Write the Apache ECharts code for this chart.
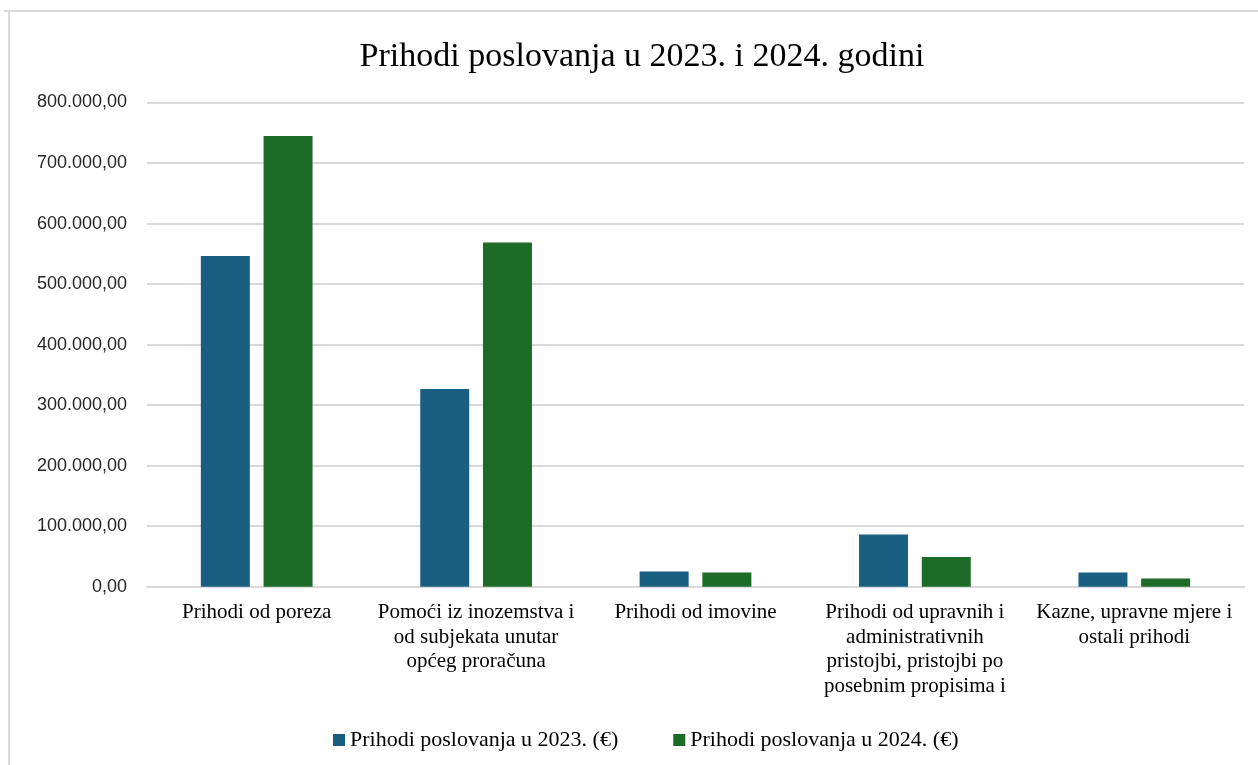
<!DOCTYPE html>
<html>
<head>
<meta charset="utf-8">
<script src="https://cdn.jsdelivr.net/npm/echarts@6/dist/echarts.min.js"></script>
<style>
html,body{margin:0;padding:0;background:#fff;}
#chart{width:1258px;height:765px;}
</style>
</head>
<body>
<div id="chart"></div>
<script>
const titleText = 'Prihodi poslovanja u 2023. i 2024. godini';
const categories = [
  'Prihodi od poreza',
  'Pomoći iz inozemstva i\nod subjekata unutar\nopćeg proračuna',
  'Prihodi od imovine',
  'Prihodi od upravnih i\nadministrativnih\npristojbi, pristojbi po\nposebnim propisima i',
  'Kazne, upravne mjere i\nostali prihodi'
];
const seriesNames = ['Prihodi poslovanja u 2023. (€)', 'Prihodi poslovanja u 2024. (€)'];
const values2023 = [546300, 326500, 25300, 86300, 23600];
const values2024 = [744500, 568700, 23600, 48900, 13700];
const yMin = 0, yMax = 800000, yStep = 100000;

function fmt(v) {
  const parts = Math.round(v).toString().replace(/\B(?=(\d{3})+(?!\d))/g, '.');
  return parts + ',00';
}

const chart = echarts.init(document.getElementById('chart'));
chart.setOption({
  animation: false,
  backgroundColor: '#ffffff',
  title: {
    text: titleText,
    left: 637,
    textAlign: 'center',
    top: 35,
    textStyle: { fontFamily: 'Liberation Serif', fontSize: 34, fontWeight: 'normal', color: '#000000' }
  },
  graphic: [
    { type: 'rect', shape: { x: 4, y: 10, width: 1254, height: 2 }, style: { fill: '#d9d9d9' } },
    { type: 'rect', shape: { x: 8, y: 10, width: 2, height: 755 }, style: { fill: '#d9d9d9' } }
  ],
  legend: {
    data: seriesNames,
    left: 328,
    top: 724,
    itemWidth: 12,
    itemHeight: 12,
    itemGap: 55,
    icon: 'rect',
    textStyle: { fontFamily: 'Liberation Serif', fontSize: 22, color: '#000000', padding: [0, 0, 0, 0] }
  },
  grid: { left: 147, right: 14, top: 102.5, bottom: 178.3, containLabel: false },
  xAxis: {
    type: 'category',
    data: categories,
    axisLine: { show: true, lineStyle: { color: '#d9d9d9', width: 2 } },
    axisTick: { show: false },
    axisLabel: {
      interval: 0,
      margin: 14,
      lineHeight: 24.5,
      fontFamily: 'Liberation Serif',
      fontSize: 21,
      color: '#000000'
    }
  },
  yAxis: {
    type: 'value',
    min: yMin,
    max: yMax,
    interval: yStep,
    axisLine: { show: false },
    axisTick: { show: false },
    splitLine: { lineStyle: { color: '#d9d9d9', width: 2 } },
    axisLabel: {
      margin: 20,
      fontFamily: 'Liberation Sans',
      fontSize: 18,
      color: '#262626',
      formatter: fmt
    }
  },
  series: [
    {
      name: seriesNames[0],
      type: 'bar',
      data: values2023,
      barWidth: 49,
      barGap: '28%',
      itemStyle: { color: '#195f82' }
    },
    {
      name: seriesNames[1],
      type: 'bar',
      data: values2024,
      barWidth: 49,
      itemStyle: { color: '#1c6b27' }
    }
  ]
});
</script>
</body>
</html>
